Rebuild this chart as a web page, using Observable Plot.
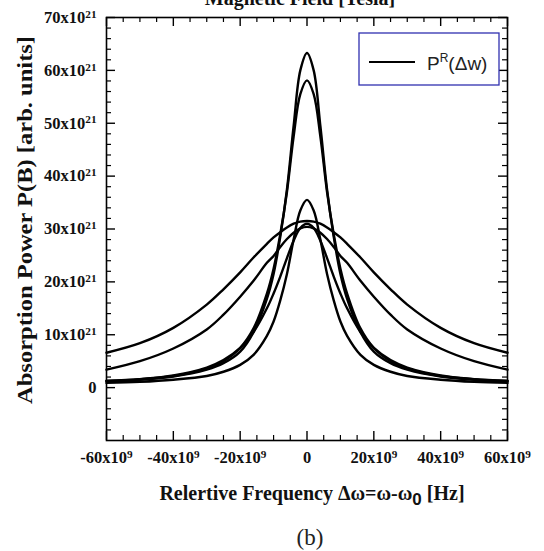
<!DOCTYPE html>
<html><head><meta charset="utf-8">
<script src="https://cdn.jsdelivr.net/npm/d3@7"></script>
<script src="https://cdn.jsdelivr.net/npm/@observablehq/plot@0.6"></script>
<style>
body{margin:0;background:#fff;}
#wrap{position:relative;width:544px;height:551px;overflow:hidden;}
#cap{position:absolute;left:310px;top:526px;transform:translateX(-50%);font-family:"Liberation Serif",serif;font-size:23px;color:#222;line-height:1;}
</style></head><body>
<div id="wrap"><div id="chart"></div><div id="cap">(b)</div></div>
<script>
// frequency offset, units of 1e9 Hz
const freq = [-60,-50,-40,-30,-25,-20,-16,-12,-10,-8,-6,-4,-2,0,2,4,6,8,10,12,16,20,25,30,40,50,60];
// absorption power, units of 1e21
const curve1 = [1.2,1.5,2.1,3.4,4.6,6.8,10.5,16.8,21.5,28.5,37.5,49.5,60.0,63.3,60.0,49.5,37.5,28.5,21.5,16.8,10.5,6.8,4.6,3.4,2.1,1.5,1.2];
const curve2 = [1.3,1.6,2.2,3.6,5.0,7.5,11.2,17.8,22.5,29.0,37.0,47.5,55.5,58.1,55.5,47.5,37.0,29.0,22.5,17.8,11.2,7.5,5.0,3.6,2.2,1.6,1.3];
const curve3 = [0.9,1.1,1.5,2.2,3.0,4.3,6.2,9.8,12.5,16.5,21.5,28.0,33.5,35.5,33.5,28.0,21.5,16.5,12.5,9.8,6.2,4.3,3.0,2.2,1.5,1.1,0.9];
const curve4 = [1.2,1.6,2.3,3.8,5.2,7.5,10.5,15.0,17.8,21.0,24.5,27.8,30.2,31.0,30.2,27.8,24.5,21.0,17.8,15.0,10.5,7.5,5.2,3.8,2.3,1.6,1.2];
const curve5 = [6.6,8.4,11.3,15.7,18.6,21.8,24.6,27.2,28.4,29.4,30.3,31.0,31.4,31.5,31.4,31.0,30.3,29.4,28.4,27.2,24.6,21.8,18.6,15.7,11.3,8.4,6.6];
const curve6 = [3.4,5.0,7.4,11.0,13.8,17.2,20.2,23.6,24.9,26.6,28.1,29.3,30.1,30.4,30.1,29.3,28.1,26.6,24.9,23.6,20.2,17.2,13.8,11.0,7.4,5.0,3.4];

const xMajor = [-60,-40,-20,0,20,40,60];
const xMinor = [-55,-50,-45,-35,-30,-25,-15,-10,-5,5,10,15,25,30,35,45,50,55];
const yMajor = [0,10,20,30,40,50,60,70];
const yMinor = [-8,-6,-4,-2,2,4,6,8,12,14,16,18,22,24,26,28,32,34,36,38,42,44,46,48,52,54,56,58,62,64,66,68];
const xExp = "9", yExp = "21";

const series = [curve1,curve2,curve3,curve4,curve5,curve6];
const data = series.flatMap((vals,i)=>vals.map((v,j)=>({curve:i, f:freq[j], p:v})));

const W = 544, H = 515, mL = 106, mR = 37, mT = 17, mB = 75;
const pw = W - mL - mR, ph = H - mT - mB;
const majLen = 9, minLen = 5;
const tickColor = "#000";

const plot = Plot.plot({
  width:W, height:H,
  marginLeft:mL, marginRight:mR, marginTop:mT, marginBottom:mB,
  style:{fontFamily:"'Liberation Serif', serif", fontSize:"16.5px", fontWeight:"bold", color:"#111"},
  x:{domain:[-60,60]},
  y:{domain:[-10,70]},
  marks:[
    Plot.frame({stroke:"#000", strokeWidth:1.6}),
    // inward ticks on all four sides
    Plot.tickX(xMajor,{x:d=>d, stroke:tickColor, strokeWidth:1.4, insetTop:ph-majLen}),
    Plot.tickX(xMinor,{x:d=>d, stroke:tickColor, strokeWidth:1.2, insetTop:ph-minLen}),
    Plot.tickX(xMajor,{x:d=>d, stroke:tickColor, strokeWidth:1.4, insetBottom:ph-majLen}),
    Plot.tickX(xMinor,{x:d=>d, stroke:tickColor, strokeWidth:1.2, insetBottom:ph-minLen}),
    Plot.tickY(yMajor,{y:d=>d, stroke:tickColor, strokeWidth:1.4, insetRight:pw-majLen}),
    Plot.tickY(yMinor,{y:d=>d, stroke:tickColor, strokeWidth:1.2, insetRight:pw-minLen}),
    Plot.tickY(yMajor,{y:d=>d, stroke:tickColor, strokeWidth:1.4, insetLeft:pw-majLen}),
    Plot.tickY(yMinor,{y:d=>d, stroke:tickColor, strokeWidth:1.2, insetLeft:pw-minLen}),
    Plot.line(data,{x:"f", y:"p", z:"curve", stroke:"#000", strokeWidth:2.4, curve:"catmull-rom"}),
    Plot.axisX(xMajor,{anchor:"bottom", tickSize:0, tickPadding:11, tickFormat:d=>String(d), label:null}),
    Plot.axisY(yMajor,{anchor:"left", tickSize:0, tickPadding:10, tickFormat:d=>String(d), label:null})
  ]
});
document.getElementById("chart").appendChild(plot);

const svg = d3.select(plot);
// tick labels: number followed by x10 with a raised exponent
function powerLabel(sel, exp){
  sel.each(function(){
    const t = d3.select(this);
    const v = t.text();
    if (v === "0") return;
    t.text(v + "x10");
    t.append("tspan").attr("dy","-0.45em").attr("font-size","0.68em").text(exp);
  });
}
powerLabel(svg.selectAll('g[aria-label="x-axis tick label"] text'), xExp);
powerLabel(svg.selectAll('g[aria-label="y-axis tick label"] text'), yExp);

const serif = "'Liberation Serif', serif";
svg.append("text").attr("x",300).attr("y",5).attr("text-anchor","middle")
  .attr("font-family",serif).attr("font-weight","bold").attr("font-size",20).attr("fill","#111")
  .text("Magnetic Field [Tesla]");
svg.append("text").attr("transform","translate(32,220) rotate(-90)").attr("text-anchor","middle")
  .attr("font-family",serif).attr("font-weight","bold").attr("font-size",20).attr("fill","#111")
  .attr("textLength",368).attr("lengthAdjust","spacingAndGlyphs")
  .text("Absorption Power P(B) [arb. units]");
const xl = svg.append("text").attr("x",312).attr("y",500).attr("text-anchor","middle")
  .attr("font-family",serif).attr("font-weight","bold").attr("font-size",20).attr("fill","#111");
xl.append("tspan").text("Relertive Frequency Δω=ω-ω");
xl.append("tspan").attr("dy",5).attr("font-family","'Liberation Sans', sans-serif").attr("font-size",17).text("0");
xl.append("tspan").attr("dy",-5).text(" [Hz]");

// legend
const lg = svg.append("g").attr("text-anchor","start");
lg.append("rect").attr("x",359).attr("y",33).attr("width",140).attr("height",52)
  .attr("fill","#fff").attr("stroke","#3030b0").attr("stroke-width",1.3);
lg.append("line").attr("x1",369).attr("x2",415).attr("y1",62).attr("y2",62).attr("stroke","#000").attr("stroke-width",2.2);
const lt = lg.append("text").attr("x",427).attr("y",70).attr("text-anchor","start")
  .attr("font-family","'Liberation Sans', sans-serif")
  .attr("font-weight","normal").attr("font-size",19).attr("fill","#222");
lt.append("tspan").text("P");
lt.append("tspan").attr("dy",-8).attr("font-size",12).text("R");
lt.append("tspan").attr("dy",8).text("(Δw)");
</script>
</body></html>
